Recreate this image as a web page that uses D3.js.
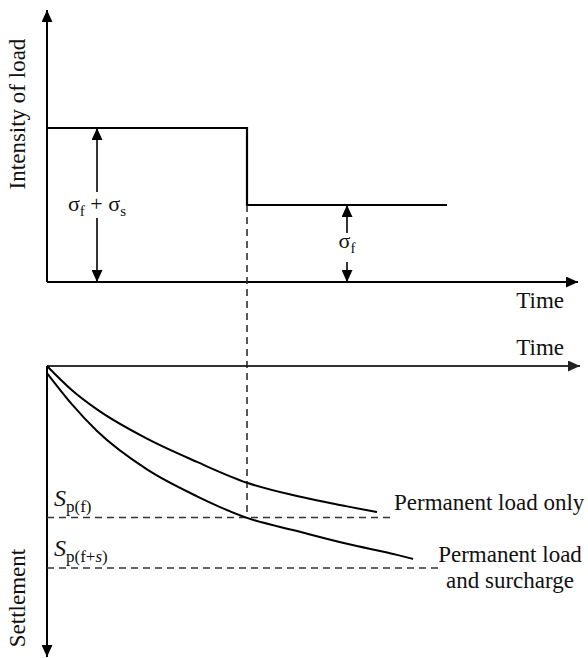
<!DOCTYPE html>
<html><head><meta charset="utf-8">
<script src="https://cdn.jsdelivr.net/npm/d3@7"></script>
<style>
body{margin:0;background:#fff}
svg{display:block}
</style>
</head><body><svg id="c" width="588" height="658" style="font-family:'Liberation Serif','DejaVu Serif',serif"></svg>
<script>
// ---- data ----
const loadTimes  = [0, 4, 4, 8];
const loadValues = [1, 1, 0.5, 0.5];           // σf+σs = 1, σf = 0.5
const permTimes  = [0, 0.5, 1, 2, 3, 4, 5, 6, 6.6];
const permSettle = [0, 0.12, 0.215, 0.36, 0.475, 0.578, 0.644, 0.695, 0.723];
const surTimes   = [0, 0.5, 1, 2, 3, 4, 5, 6, 7, 7.32];
const surSettle  = [0.035, 0.19, 0.322, 0.512, 0.645, 0.752, 0.817, 0.88, 0.935, 0.955];
const refLevels  = [0.75, 1.0];                 // Sp(f), Sp(f+s)
const refEnds    = [6.92, 7.9];
const removalTime = 4;
const arrowTimes = [1, 6];                      // dimension arrows
const arrowTops  = [1, 0.5];
const curveLabels = ["Permanent load only", "Permanent load", "and surcharge"];

// ---- scales ----
const x = d3.scaleLinear([0, 10], [47, 547]);
const yLoad = d3.scaleLinear([0, 1], [282, 128]);
const ySet = d3.scaleLinear([0, 1], [366, 568]);

const FONT = "'Liberation Serif','DejaVu Serif',serif";
const FS = 23;
const svg = d3.select("#c");
const defs = svg.append("defs");
function marker(id, color) {
  defs.append("marker").attr("id", id)
    .attr("viewBox", "0 0 12 11").attr("refX", 12).attr("refY", 5.5)
    .attr("markerWidth", 12).attr("markerHeight", 11)
    .attr("markerUnits", "userSpaceOnUse").attr("orient", "auto-start-reverse")
    .append("path").attr("d", "M0,0 L12,5.5 L0,11 Z").attr("fill", color);
}
marker("ah", "#000");
marker("ahg", "#222");

function line(x1, y1, x2, y2, opts = {}) {
  const l = svg.append("line").attr("x1", x1).attr("y1", y1).attr("x2", x2).attr("y2", y2)
    .attr("stroke", opts.color || "#000").attr("stroke-width", opts.w || 2);
  if (opts.dash) l.attr("stroke-dasharray", opts.dash);
  if (opts.end) l.attr("marker-end", "url(#" + opts.end + ")");
  if (opts.start) l.attr("marker-start", "url(#" + opts.start + ")");
  return l;
}
function txt(xx, yy, size, anchor) {
  return svg.append("text").attr("x", xx).attr("y", yy)
    .attr("font-family", FONT).attr("font-size", size)
    .attr("text-anchor", anchor || "start").attr("fill", "#111");
}

// ---- top panel: load ----
line(x(0), yLoad(0), x(0), yLoad(1.766), {end: "ah"});
line(x(0), yLoad(0), x(10.62), yLoad(0), {end: "ah"});

const loadPts = loadTimes.map((t, i) => [x(t), yLoad(loadValues[i])]);
svg.append("path").attr("d", d3.line()(loadPts))
  .attr("fill", "none").attr("stroke", "#000").attr("stroke-width", 2.2);

// dimension arrows (split around label)
const gaps = [[192, 218], [233, 262]];
arrowTimes.forEach((t, i) => {
  const xx = x(t);
  line(xx, gaps[i][0], xx, yLoad(arrowTops[i]), {w: 1.6, end: "ah"});
  line(xx, gaps[i][1], xx, yLoad(0), {w: 1.6, end: "ah"});
});

// labels
const t1 = txt(x(arrowTimes[0]), 211, 22, "middle");
t1.append("tspan").text("σ");
t1.append("tspan").attr("dy", 5).attr("font-size", 15).text("f");
t1.append("tspan").attr("dy", -5).text(" + σ");
t1.append("tspan").attr("dy", 5).attr("font-size", 15).text("s");

const t2 = txt(x(arrowTimes[1]), 248, 22, "middle");
t2.append("tspan").text("σ");
t2.append("tspan").attr("dy", 5).attr("font-size", 15).text("f");

txt(564, 308, FS, "end").text("Time");
txt(0, 0, FS, "middle").attr("transform", "translate(25,114) rotate(-90)").text("Intensity of load");

// ---- bottom panel: settlement ----
line(x(0), ySet(0), x(10.66), ySet(0), {color: "#333", end: "ahg"});
line(x(0), ySet(0), x(0), ySet(1.44), {end: "ah"});

txt(564, 355, FS, "end").text("Time");
txt(0, 0, FS, "middle").attr("transform", "translate(25,598) rotate(-90)").text("Settlement");

// dashed reference lines
line(x(removalTime), yLoad(loadValues[2]), x(removalTime), ySet(refLevels[0]), {w: 1.5, dash: "7,5", color: "#222"});
refLevels.forEach((lv, i) => {
  line(x(0), ySet(lv), x(refEnds[i]), ySet(lv), {w: 1.5, dash: "7,5", color: "#333"});
});

// curves
const lg = d3.line().x(d => x(d[0])).y(d => ySet(d[1])).curve(d3.curveMonotoneX);
svg.append("path").attr("d", lg(permTimes.map((t, i) => [t, permSettle[i]])))
  .attr("fill", "none").attr("stroke", "#000").attr("stroke-width", 2);
svg.append("path").attr("d", lg(surTimes.map((t, i) => [t, surSettle[i]])))
  .attr("fill", "none").attr("stroke", "#000").attr("stroke-width", 2);

// S labels
function sLabel(yb, sub) {
  const t = txt(54, yb, 24);
  t.append("tspan").attr("font-style", "italic").text("S");
  const s = t.append("tspan").attr("dy", 6).attr("font-size", 17);
  sub.forEach(p => s.append("tspan").attr("font-style", p[1] ? "italic" : "normal").text(p[0]));
}
sLabel(506, [["p(f)", false]]);
sLabel(556, [["p(f+", false], ["s", true], [")", false]]);

// curve labels
txt(394, 510, FS).text(curveLabels[0]);
txt(510, 562, FS, "middle").text(curveLabels[1]);
txt(510, 588, FS, "middle").text(curveLabels[2]);
</script>
</body></html>
